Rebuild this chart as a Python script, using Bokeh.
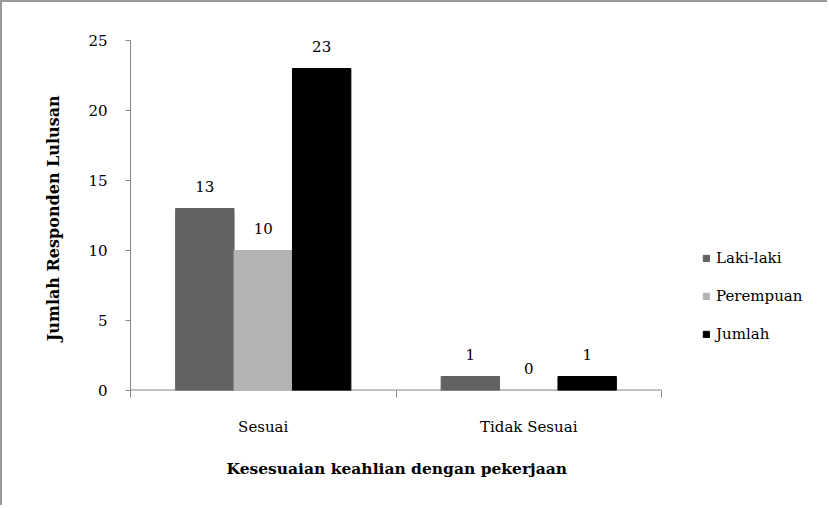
from bokeh.plotting import figure
from bokeh.models import ColumnDataSource, FixedTicker, Legend, LegendItem, Range1d, Title
from bokeh.core.properties import value
from bokeh.embed import file_html
from bokeh.resources import INLINE

categories = ["Sesuai", "Tidak Sesuai"]
series = ["Laki-laki", "Perempuan", "Jumlah"]
laki = [13, 1]
perempuan = [10, 0]
jumlah = [23, 1]
colors = ["#626262", "#b3b3b3", "#000000"]
y_ticks = [0, 5, 10, 15, 20, 25]

FONT = "DejaVu Serif"

n = len(categories)
# frame spans past the category area so the legend (inside the frame) is not clipped
x_end = n * 699.0 / 531.0

p = figure(width=827, height=505, output_backend="svg", toolbar_location=None,
           x_range=Range1d(0, x_end), y_range=Range1d(0, 25),
           min_border_left=128, min_border_right=0, min_border_top=38,
           min_border_bottom=117)
p.styles = {"border-left": "2px solid #9a9a9a", "border-top": "2px solid #9a9a9a"}
p.outline_line_color = None
p.grid.visible = False
p.background_fill_color = "white"

# x axis line only over the category area
p.segment(x0=[0], y0=[0], x1=[n], y1=[0], line_color="#868686", line_width=2)

offsets = [-0.22, 0.0, 0.22]
width = 0.22
items = []
for vals, name, col, off in zip([laki, perempuan, jumlah], series, colors, offsets):
    xs = [i + 0.5 + off for i in range(n)]
    src = ColumnDataSource(dict(x=xs, top=vals, label=[str(v) for v in vals]))
    r = p.vbar(x="x", top="top", width=width, source=src, fill_color=col, line_color=col)
    p.text(x="x", y="top", text="label", source=src, text_align="center",
           text_baseline="bottom", y_offset=-17, text_font=value(FONT),
           text_font_size="15px", text_color="#000000")
    items.append(LegendItem(label=name, renderers=[r]))

legend = Legend(items=items, location=(572, 46), padding=0, margin=0,
                border_line_color=None, background_fill_alpha=0,
                label_text_font=FONT, label_text_font_size="15px",
                label_text_color="#000000",
                glyph_width=8, glyph_height=8, label_height=20, spacing=18,
                label_standoff=6)
p.add_layout(legend, "center")

xa = p.xaxis[0]
xa.ticker = FixedTicker(ticks=[0.5, 1.5], minor_ticks=[0, 1, 2])
xa.major_label_overrides = {0.5: categories[0], 1.5: categories[1]}
xa.major_tick_out = 0
xa.major_tick_in = 0
xa.minor_tick_out = 7
xa.minor_tick_in = 0
xa.minor_tick_line_color = "#868686"
xa.axis_line_color = None
xa.major_label_standoff = 20
xa.major_label_text_font = FONT
xa.major_label_text_font_size = "15px"
xa.major_label_text_color = "#000000"

xtitle = Title(text="Kesesuaian keahlian dengan pekerjaan", align="left", offset=96,
               text_font=FONT, text_font_style="bold", text_font_size="15.5px",
               text_color="#000000", standoff=36)
p.add_layout(xtitle, "below")

ya = p.yaxis[0]
ya.ticker = FixedTicker(ticks=y_ticks)
ya.major_tick_out = 5
ya.major_tick_in = 0
ya.minor_tick_line_color = None
ya.major_tick_line_color = "#868686"
ya.axis_line_color = "#868686"
ya.major_label_standoff = 18
ya.major_label_text_font = FONT
ya.major_label_text_font_size = "15px"
ya.major_label_text_color = "#000000"
ya.axis_label = "Jumlah Responden  Lulusan"
ya.axis_label_text_font = FONT
ya.axis_label_text_font_style = "bold"
ya.axis_label_text_font_size = "16px"
ya.axis_label_text_color = "#000000"
ya.axis_label_standoff = 22

open("out.html", "w").write(file_html(p, INLINE))
